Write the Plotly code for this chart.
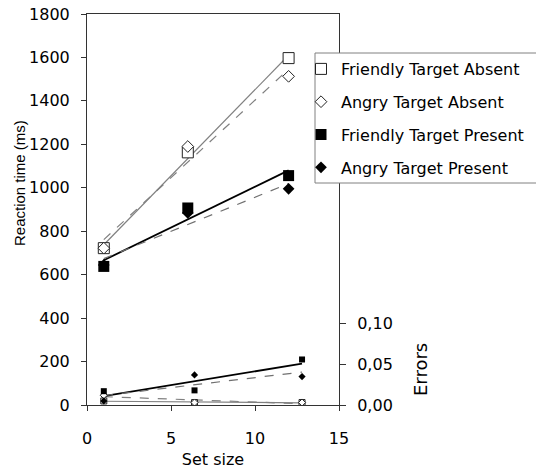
import numpy as np
import plotly.graph_objects as go

# ---- data ----
set_size = [1, 6, 12]
err_set_size = [1, 6.4, 12.8]

series_names = ["Friendly Target Absent", "Angry Target Absent",
                "Friendly Target Present", "Angry Target Present"]

rt_friendly_absent = [722, 1163, 1597]
rt_angry_absent = [722, 1190, 1513]
rt_friendly_present = [638, 907, 1056]
rt_angry_present = [645, 884, 995]

err_friendly_absent = [0.005, 0.003, 0.003]
err_angry_absent = [0.012, 0.003, 0.003]
err_friendly_present = [0.017, 0.018, 0.056]
err_angry_present = [0.005, 0.037, 0.035]

x_ticks = [0, 5, 10, 15]
y_ticks = [0, 200, 400, 600, 800, 1000, 1200, 1400, 1600, 1800]
y2_ticks = [0, 0.05, 0.10]

# ---- styles ----
FONT = "DejaVu Sans"
styles = [
    dict(symbol="square-open", fill="white", tl_color="#808080", tl_dash="solid", tl_w=1.2),
    dict(symbol="diamond-open", fill="white", tl_color="#808080", tl_dash="dash", tl_w=1.2),
    dict(symbol="square", fill="black", tl_color="black", tl_dash="solid", tl_w=1.8),
    dict(symbol="diamond", fill="black", tl_color="#707070", tl_dash="dash", tl_w=1.2),
]
rt_data = [rt_friendly_absent, rt_angry_absent, rt_friendly_present, rt_angry_present]
err_data = [err_friendly_absent, err_angry_absent, err_friendly_present, err_angry_present]

fig = go.Figure()


def trend(xs, ys):
    k, b = np.polyfit(xs, ys, 1)
    xa = [min(xs), max(xs)]
    return xa, [k * v + b for v in xa]


# trend lines first
for i, st in enumerate(styles):
    tx, ty = trend(set_size, rt_data[i])
    fig.add_trace(go.Scatter(x=tx, y=ty, mode="lines", showlegend=False, hoverinfo="skip",
                             line=dict(color=st["tl_color"], dash=st["tl_dash"], width=st["tl_w"])))
    ex, ey = trend(err_set_size, err_data[i])
    fig.add_trace(go.Scatter(x=ex, y=ey, mode="lines", showlegend=False, hoverinfo="skip",
                             yaxis="y2",
                             line=dict(color=st["tl_color"], dash=st["tl_dash"], width=st["tl_w"])))

# markers
for i, st in enumerate(styles):
    is_open = "open" in st["symbol"]
    base = st["symbol"].replace("-open", "")
    rt_size = 11 if base == "square" else 9
    err_size = 6 if base == "square" else 5.5
    mk = dict(symbol=base, color=st["fill"], line=dict(color="#222", width=1 if is_open else 0))
    fig.add_trace(go.Scatter(x=set_size, y=rt_data[i], mode="markers", name=series_names[i],
                             legendgroup=f"g{i}",
                             marker=dict(size=rt_size, **mk)))
    fig.add_trace(go.Scatter(x=err_set_size, y=err_data[i], mode="markers", name=series_names[i],
                             legendgroup=f"g{i}", showlegend=False, yaxis="y2",
                             marker=dict(size=err_size, **mk)))

L, R, T, B = 87, 197, 14, 64
W, H = 536, 469
pw, ph = W - L - R, H - T - B


def px_x(p):
    return (p - L) / pw


def px_y(p):
    return (H - B - p) / ph


axis_line = "#333333"
fig.update_layout(
    width=W, height=H,
    margin=dict(l=L, r=R, t=T, b=B, pad=0, autoexpand=False),
    paper_bgcolor="white", plot_bgcolor="white",
    separators=",.",
    font=dict(family=FONT, size=16, color="black"),
    showlegend=True,
    legend=dict(x=px_x(301), y=px_y(52), xanchor="left", yanchor="top",
                bgcolor="rgba(0,0,0,0)", borderwidth=0,
                font=dict(family=FONT, size=16, color="black"),
                tracegroupgap=9, itemsizing="trace"),
    xaxis=dict(range=[0, 15], tickvals=x_ticks, showgrid=False, zeroline=False,
               showline=True, linecolor=axis_line, linewidth=1, mirror=True,
               ticks="outside", ticklen=5, tickcolor=axis_line, automargin=False,
               ticklabelstandoff=14,
               title=dict(text="Set size", standoff=13, font=dict(family=FONT, size=16))),
    yaxis=dict(range=[0, 1800], tickvals=y_ticks, showgrid=False, zeroline=False,
               showline=True, linecolor=axis_line, linewidth=1, automargin=False,
               ticks="outside", ticklen=5, tickcolor=axis_line,
               ticklabelstandoff=8),
    yaxis2=dict(range=[0, 0.481], tickvals=y2_ticks, tickformat=".2f", overlaying="y",
                side="right", showgrid=False, zeroline=False, automargin=False,
                showline=True, linecolor=axis_line, linewidth=1,
                ticks="outside", ticklen=6, tickcolor=axis_line,
                ticklabelstandoff=8),
    shapes=[dict(type="rect", xref="paper", yref="paper", layer="above",
                 x0=px_x(315), x1=px_x(545), y0=px_y(183), y1=px_y(53),
                 line=dict(color="#808080", width=1), fillcolor="white")],
    annotations=[
        dict(text="Reaction time (ms)", xref="paper", yref="paper", x=px_x(19), y=px_y(183),
             textangle=-90, showarrow=False, xanchor="center", yanchor="middle",
             font=dict(family="Liberation Sans", size=15, color="black")),
        dict(text="Errors", xref="paper", yref="paper", x=px_x(420), y=px_y(370),
             textangle=-90, showarrow=False, xanchor="center", yanchor="middle",
             font=dict(family=FONT, size=18, color="black")),
    ],
)

fig.write_html("out.html")
